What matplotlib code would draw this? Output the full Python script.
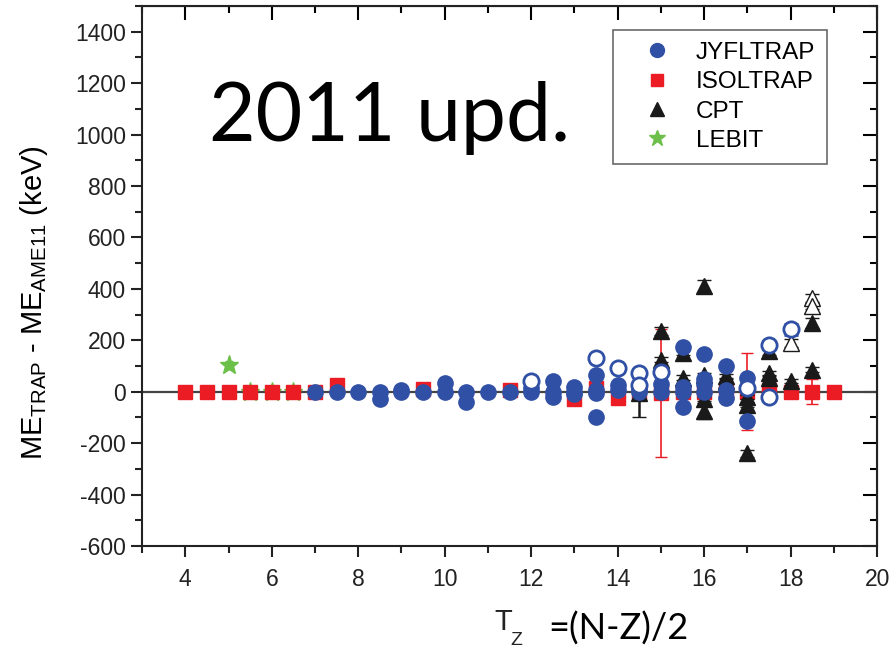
import numpy as np
import matplotlib
matplotlib.use('Agg')
import matplotlib.pyplot as plt
from matplotlib.ticker import MultipleLocator

plt.rcParams['font.family'] = ['Liberation Sans', 'DejaVu Sans']
plt.rcParams['mathtext.fontset'] = 'custom'
plt.rcParams['mathtext.rm'] = 'Liberation Sans'
plt.rcParams['axes.unicode_minus'] = False

# --- data (Tz, ME_trap - ME_ame11 in keV, error) ---
jyfl_x = [7, 7.5, 8, 8.5, 8.5, 9, 9, 9.5, 10, 10, 10.5, 10.5, 11, 11.5, 12, 12,
          12.5, 12.5, 12.5, 13, 13, 13, 13.5, 13.5, 13.5, 13.5, 14, 14, 14.5, 14.5,
          15, 15, 15.5, 15.5, 15.5, 15.5, 16, 16, 16, 16, 16.5, 16.5, 16.5, 17, 17]
jyfl_y = [0, 0, 0, 0, -30, 0, 8, 0, 0, 35, 0, -40, 0, 0, 0, 15,
          40, 0, -20, 20, 0, -10, 65, 5, -5, -98, 27, 5, 0, 12,
          30, 0, 175, 20, 0, -58, 145, 50, 28, 0, 100, 5, -25, 55, -113]
jyfl_open_x = [12, 13.5, 14, 14.5, 14.5, 15, 17, 17.5, 17.5, 18]
jyfl_open_y = [40, 130, 93, 73, 27, 78, 15, 183, -20, 242]
jyfl_open_err = [8, 15, 10, 10, 10, 10, 8, 15, 12, 22]

isol_x = [4, 4.5, 5, 5.5, 6, 6.5, 7, 7.5, 9.5, 11.5, 13, 13.5, 14, 14.5, 15,
          15.5, 16, 16.5, 17, 17.5, 18, 18.5, 19]
isol_y = [0, 0, 0, 0, 0, 0, 0, 25, 10, 8, -30, 15, -25, 0, -5,
          0, 0, 0, 0, 8, 0, 0, 0]
isol_err = [3, 3, 3, 3, 3, 3, 3, 5, 5, 5, 5, 15, 10, 15, 250,
            5, 5, 5, 150, 5, 5, 48, 10]

cpt_x = [14.5, 15, 15, 15.5, 15.5, 16, 16, 16, 16, 16.5, 16.5, 17, 17, 17,
         17.5, 17.5, 17.5, 18, 18.5, 18.5]
cpt_y = [-5, 235, 125, 152, 55, 410, 65, -30, -75, 60, 40, -20, -50, -240,
         157, 73, 52, 40, 268, 85]
cpt_err = [95, 15, 10, 10, 8, 25, 8, 8, 30, 8, 8, 8, 8, 15,
           15, 8, 8, 8, 20, 10]
cpt_open_x = [18, 18.5, 18.5]
cpt_open_y = [190, 365, 333]
cpt_open_err = [15, 15, 12]

lebit_x = [5, 5.5, 6, 6.5]
lebit_y = [105, 0, 0, 0]
lebit_err = [15, 5, 5, 5]

BLUE = '#3050a5'
RED = '#ec1c24'
GREEN = '#6cc04a'
BLACK = '#1a1a1a'

fig = plt.figure(figsize=(8.95, 6.56), dpi=100)
ax = fig.add_axes([0.1587, 0.1677, 0.8213, 0.8232])

ax.axhline(0, color='#444444', lw=1.6, zorder=1)

ax.errorbar(lebit_x, lebit_y, yerr=lebit_err, fmt='*', color=GREEN, ms=14,
            capsize=3, lw=1, zorder=2)
ax.errorbar(isol_x, isol_y, yerr=isol_err, fmt='s', color=RED, ms=9.5,
            capsize=4, lw=1.2, zorder=3)
ax.errorbar(cpt_x, cpt_y, yerr=cpt_err, fmt='^', color=BLACK, ms=11,
            capsize=5, lw=1.8, zorder=4)
ax.errorbar(cpt_open_x, cpt_open_y, yerr=cpt_open_err, fmt='^', color=BLACK,
            mfc='white', ms=11, capsize=5, lw=1.2, zorder=4)
ax.errorbar(jyfl_x, jyfl_y, yerr=5, fmt='o', color=BLUE, ms=11,
            capsize=0, lw=1, zorder=5)
ax.errorbar(jyfl_open_x, jyfl_open_y, yerr=jyfl_open_err, fmt='o', color=BLUE,
            mfc='white', mew=2, ms=11, capsize=5, lw=1.4, zorder=5)

ax.set_xlim(3, 20)
ax.set_ylim(-600, 1500)
ax.set_yticks(np.arange(-600, 1401, 200))
ax.xaxis.set_major_locator(MultipleLocator(2))
ax.xaxis.set_minor_locator(MultipleLocator(1))
ax.yaxis.set_minor_locator(MultipleLocator(100))
ax.tick_params(which='both', direction='out', labelsize=16.5, width=1.5,
               top=False, right=False, colors='#222222')
ax.tick_params(which='major', length=8)
ax.tick_params(which='minor', length=5)
ax.tick_params(axis='x', pad=8)
for s in ax.spines.values():
    s.set_linewidth(1.5)
    s.set_color('#222222')

# inward ticks on top and right
top = ax.secondary_xaxis('top')
top.xaxis.set_major_locator(MultipleLocator(2))
top.xaxis.set_minor_locator(MultipleLocator(1))
top.tick_params(which='both', direction='in', labeltop=False, width=1.5)
top.tick_params(which='major', length=10)
top.tick_params(which='minor', length=5)
right = ax.secondary_yaxis('right')
right.set_yticks(np.arange(-600, 1401, 200))
right.yaxis.set_minor_locator(MultipleLocator(100))
right.tick_params(which='both', direction='in', labelright=False, width=1.5)
right.tick_params(which='major', length=10)
right.tick_params(which='minor', length=5)

ax.set_ylabel(r'ME$_{\rm TRAP}$ - ME$_{\rm AME11}$ (keV)', fontsize=21)
ax.yaxis.set_label_coords(-0.125, 0.45)

h = [
    plt.Line2D([], [], ls='none', marker='o', color=BLUE, ms=10),
    plt.Line2D([], [], ls='none', marker='s', color=RED, ms=9),
    plt.Line2D([], [], ls='none', marker='^', color=BLACK, ms=10),
    plt.Line2D([], [], ls='none', marker='*', color=GREEN, ms=12),
]
leg = ax.legend(h, ['JYFLTRAP', 'ISOLTRAP', 'CPT', 'LEBIT'], loc='upper right',
                bbox_to_anchor=(0.932, 0.956), borderaxespad=0, fontsize=17.5,
                frameon=True, fancybox=False, edgecolor='#444444',
                handletextpad=0.3, labelspacing=0.3, borderpad=0.5,
                handlelength=2.6)
leg.get_frame().set_linewidth(1.2)

fig.text(0.233, 0.785, '2011 upd.', fontsize=58, family='Lato', color='black')
fig.text(0.552, 0.0396, 'T', fontsize=21, color='#222222', va='baseline')
fig.text(0.570, 0.0168, 'Z', fontsize=14, color='#222222', va='baseline')
fig.text(0.613, 0.0245, '=(N-Z)/2', fontsize=26, family='Lato', color='black',
         va='baseline')

fig.savefig('out.png', dpi=100)
